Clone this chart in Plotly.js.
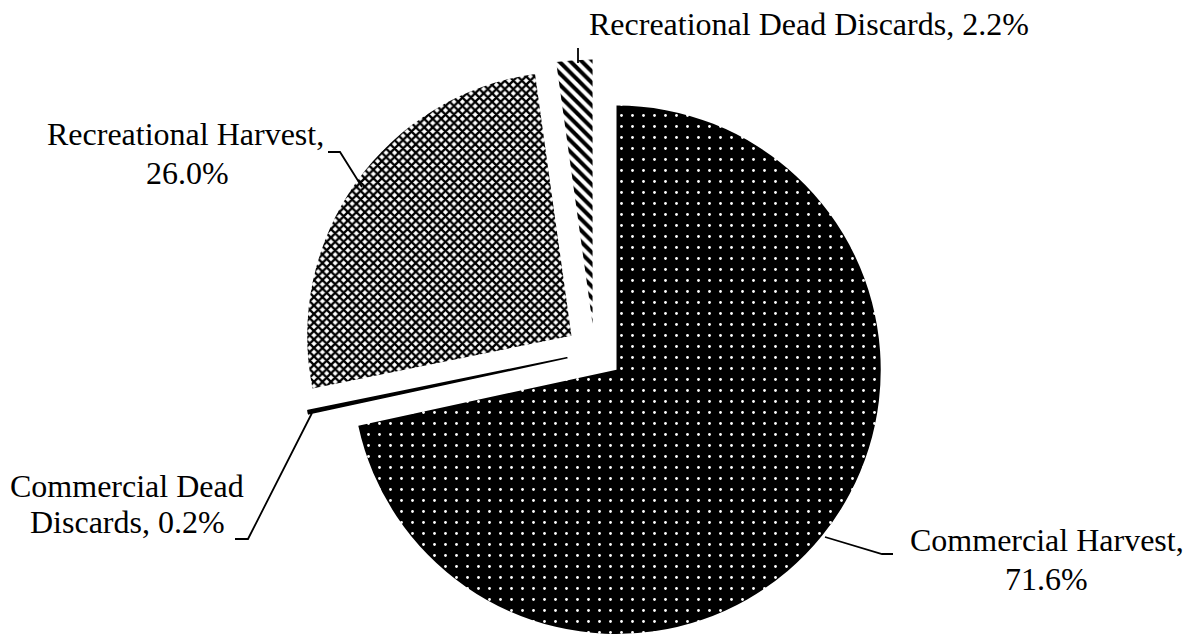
<!DOCTYPE html>
<html>
<head>
<meta charset="utf-8">
<script src="https://cdn.plot.ly/plotly-3.0.1.min.js"></script>
<style>
html, body { margin: 0; padding: 0; overflow: hidden; background: #fff; width: 1189px; height: 634px; }
#chart { width: 1189px; height: 650px; }
</style>
</head>
<body>
<div id="chart"></div>
<script>
// Data
const categories = ["Commercial Harvest", "Commercial Dead Discards", "Recreational Harvest", "Recreational Dead Discards"];
const shares = [71.6, 0.2, 26.0, 2.2];
const labelLines = [
  ["Commercial Harvest,", "71.6%"],
  ["Commercial Dead", "Discards, 0.2%"],
  ["Recreational Harvest,", "26.0%"],
  ["Recreational Dead Discards, 2.2%"]
];

// Layout helpers (pixel -> paper)
const W = 1189, H = 650;
const px = x => x / W;
const py = y => 1 - y / H;

// Label line placement (centre x, centre y of each text line, in px)
const labelPos = [
  [[1047, 540], [1046, 579]],
  [[127, 486], [127, 522]],
  [[185, 134], [187, 173]],
  [[809, 24]]
];
// Leader lines (px)
const leaders = [
  [[825, 537], [882, 554], [893, 554]],
  [[235, 539], [248, 539], [312, 413]],
  [[328, 152], [340, 152], [362, 187]],
  [[578, 48], [578, 63]]
];

const font = {family: "Liberation Serif, Times New Roman, serif", size: 32, color: "#000"};

const annotations = [];
labelLines.forEach((lines, i) => {
  lines.forEach((t, j) => {
    annotations.push({
      text: t, xref: "paper", yref: "paper",
      x: px(labelPos[i][j][0]), y: py(labelPos[i][j][1]),
      xanchor: "center", yanchor: "middle", showarrow: false, font: font
    });
  });
});

const shapes = leaders.map(pts => ({
  type: "path", xref: "paper", yref: "paper",
  path: pts.map((p, k) => (k ? "L" : "M") + px(p[0]) + "," + py(p[1])).join(" "),
  line: {color: "#000", width: 1.8}
}));

const trace = {
  type: "pie",
  labels: categories,
  values: shares,
  sort: false,
  direction: "clockwise",
  rotation: 0,
  pull: [0.107, 0.107, 0.107, 0.107],
  textinfo: "none",
  hoverinfo: "label+percent",
  showlegend: false,
  domain: {x: [0, 1], y: [1 - 644.5 / H, 1 - 59.5 / H]},
  marker: {
    colors: ["#000", "#000", "#fff", "#fff"],
    line: {width: [0, 1.6, 0, 0], color: "#000"},
    pattern: {
      shape: [".", "", "x", "\\"],
      fgcolor: ["#fff", "#000", "#000", "#000"],
      bgcolor: ["#000", "#000", "#fff", "#fff"],
      size: [11, 8, 6, 8],
      solidity: [0.05, 0.5, 0.62, 0.5],
      fillmode: "replace"
    }
  }
};

Plotly.newPlot("chart", [trace], {
  width: W, height: H,
  margin: {l: 0, r: 0, t: 0, b: 0},
  paper_bgcolor: "#fff",
  annotations: annotations,
  shapes: shapes
}, {staticPlot: true});
</script>
</body>
</html>
